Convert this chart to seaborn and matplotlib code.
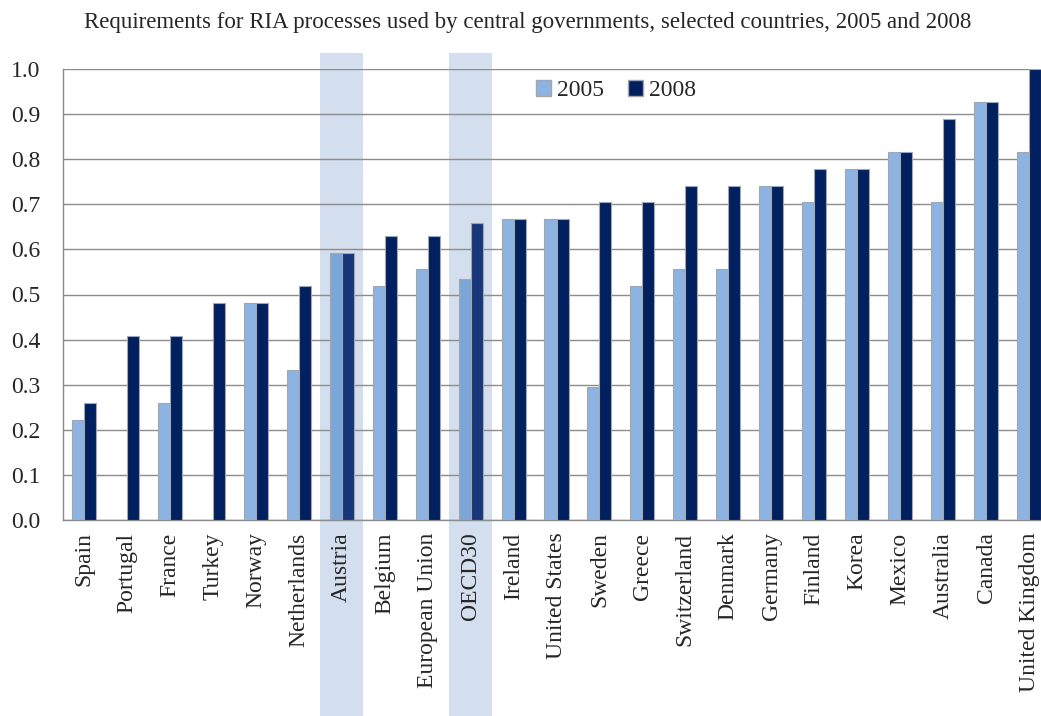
import matplotlib
matplotlib.use("Agg")
import matplotlib.pyplot as plt
import matplotlib.patches as mpatches
import numpy as np
import pandas as pd
import seaborn as sns

countries = ["Spain", "Portugal", "France", "Turkey", "Norway", "Netherlands",
             "Austria", "Belgium", "European Union", "OECD30", "Ireland",
             "United States", "Sweden", "Greece", "Switzerland", "Denmark",
             "Germany", "Finland", "Korea", "Mexico", "Australia", "Canada",
             "United Kingdom"]
v2005 = [0.222, np.nan, 0.259, np.nan, 0.481, 0.333, 0.593, 0.519, 0.556,
         0.534, 0.667, 0.667, 0.296, 0.519, 0.556, 0.556, 0.741, 0.704,
         0.778, 0.815, 0.704, 0.926, 0.815]
v2008 = [0.259, 0.407, 0.407, 0.481, 0.481, 0.519, 0.593, 0.630, 0.630,
         0.659, 0.667, 0.667, 0.704, 0.704, 0.741, 0.741, 0.741, 0.778,
         0.778, 0.815, 0.889, 0.926, 1.0]
highlight = ["Austria", "OECD30"]

df = pd.DataFrame({
    "country": countries * 2,
    "year": ["2005"] * len(countries) + ["2008"] * len(countries),
    "value": v2005 + v2008,
})

sns.set_style("white")
plt.rcParams["font.family"] = ["Liberation Serif", "DejaVu Serif"]

fig = plt.figure(figsize=(10.41, 7.16), dpi=100)
ax = fig.add_axes([62.5 / 1041, (716 - 520) / 716, 988 / 1041, 451 / 716])

colors = {"2005": "#8DB3E2", "2008": "#002060"}
hl_colors = {"2005": "#7BA6D8", "2008": "#17377A"}

sns.barplot(data=df, x="country", y="value", hue="year", palette=colors,
            saturation=1, width=0.56, edgecolor="#A6A6A6", linewidth=0.8,
            ax=ax, legend=False, zorder=3)

# recolour bars of highlighted categories (match by position, NaN bars are skipped)
hl_idx = [countries.index(n) for n in highlight]
for year, cont in zip(["2005", "2008"], ax.containers):
    for bar in cont:
        pos = int(round(bar.get_x() + bar.get_width() / 2))
        if pos in hl_idx:
            bar.set_facecolor(hl_colors[year])

# highlight bands
for i in hl_idx:
    ax.axvspan(i - 0.5, i + 0.5, ymin=-0.435, ymax=1.036, color="#D3DEEE",
               zorder=0, clip_on=False, lw=0)

ticks = np.arange(0, 1.01, 0.1)
ax.set_ylim(0, 1.0)
ax.set_xlim(-0.5, len(countries) - 0.5)
ax.set_yticks(ticks)
ax.set_yticklabels([f"{t:.1f}" for t in ticks], fontsize=17)
ax.yaxis.grid(True, color="#8C8C8C", lw=1)
for line in ax.get_ygridlines():
    line.set_zorder(1)
ax.tick_params(axis="x", labelrotation=90, labelsize=17, length=0, pad=9)
ax.tick_params(axis="y", length=0, pad=16)
ax.set_xlabel("")
ax.set_ylabel("")
for s in ["top", "right"]:
    ax.spines[s].set_visible(False)
for s in ["left", "bottom"]:
    ax.spines[s].set_color("#8C8C8C")
    ax.spines[s].set_linewidth(1)
ax.patch.set_alpha(0)

handles = [mpatches.Patch(facecolor=colors[y], edgecolor="#A6A6A6", label=y)
           for y in ["2005", "2008"]]
ax.legend(handles=handles, loc="center", bbox_to_anchor=(0.56, 0.952), ncol=2,
          frameon=False, fontsize=17, handlelength=0.65, handleheight=0.65,
          handletextpad=0.25, columnspacing=1.0)

fig.text(0.507, 0.968, "Requirements for RIA processes used by central governments, selected countries, 2005 and 2008",
         ha="center", va="center", fontsize=16.5)

fig.savefig("out.png", dpi=100)
